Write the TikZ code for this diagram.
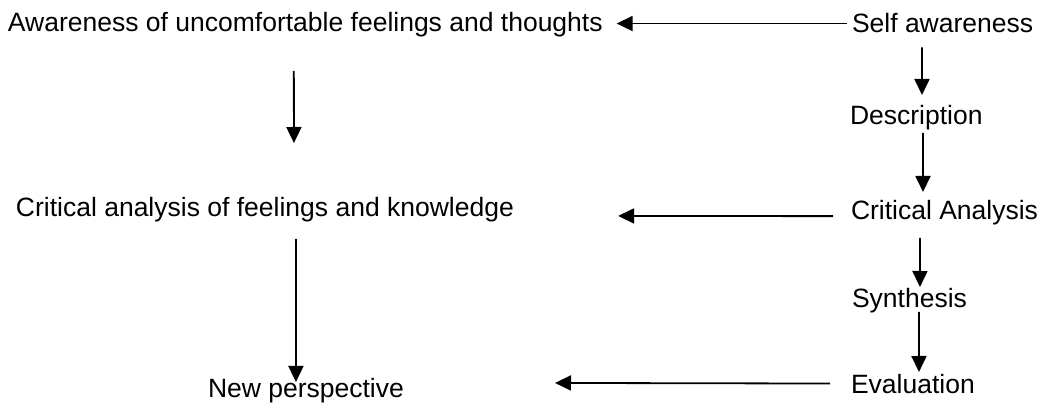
\documentclass[tikz,border=0pt]{standalone}
\usepackage{fontspec}
\setmainfont{Liberation Sans}
\usetikzlibrary{arrows.meta,calc}
\tikzset{
  lbl/.style={inner sep=0pt, outer sep=0pt, anchor=base west, font=\fontsize{26.5}{30}\selectfont},
  arr/.style={line width=1.8pt, -{Triangle[length=16pt,width=15pt]}}
}
\begin{document}
\begin{tikzpicture}[x=1pt,y=-1pt]
\useasboundingbox[fill=white] (0,0) rectangle (1041,403);
% left column
\node[lbl] (aw)  at (8,32)    {Awareness of uncomfortable feelings and thoughts};
\node[lbl] (cak) at (16,217)  {Critical analysis of feelings and knowledge};
\node[lbl] (np)  at (208,397) {New perspective};
% right column
\node[lbl] (sa) at (852,33)  {Self awareness};
\node[lbl] (de) at (850,125) {Description};
\node[lbl] (ca) at (851,220) {Critical Analysis};
\node[lbl] (sy) at (852,308) {Synthesis};
\node[lbl] (ev) at (851,393) {Evaluation};
% right column vertical arrows
\draw[arr] ($(sa.south)+(-20.6,14)$) -- ($(de.north)+(5.7,-10.8)$);
\draw[arr] ($(de.south)+(6.7,2.4)$)  -- ($(ca.north)+(-21.5,-8.8)$);
\draw[arr] ($(ca.south)+(-24.5,12.4)$) -- ($(sy.north)+(10.5,-1.8)$);
\draw[arr] ($(sy.south)+(9.5,-1.6)$) -- ($(ev.north)+(6.1,-1.8)$);
% horizontal arrows
\draw[arr, shorten <=5pt, shorten >=14pt] (sa.west) -- (sa.west -| aw.east);
\draw[arr] ($(ca.west)+(-18,3)$) -- ($(cak.east)+(104.2,5.8)$);
\draw[arr] ($(ev.west)+(-21,0)$) -- ($(np.east)+(151.1,-7.2)$);
% left column vertical arrows
\draw[arr] ($(aw.south)+(-11.5,33.4)$) -- ($(cak.north)+(29,-54.8)$);
\draw[arr] ($(cak.south)+(31,16.4)$) -- ($(np.north)+(-10,4.2)$);
\end{tikzpicture}
\end{document}
